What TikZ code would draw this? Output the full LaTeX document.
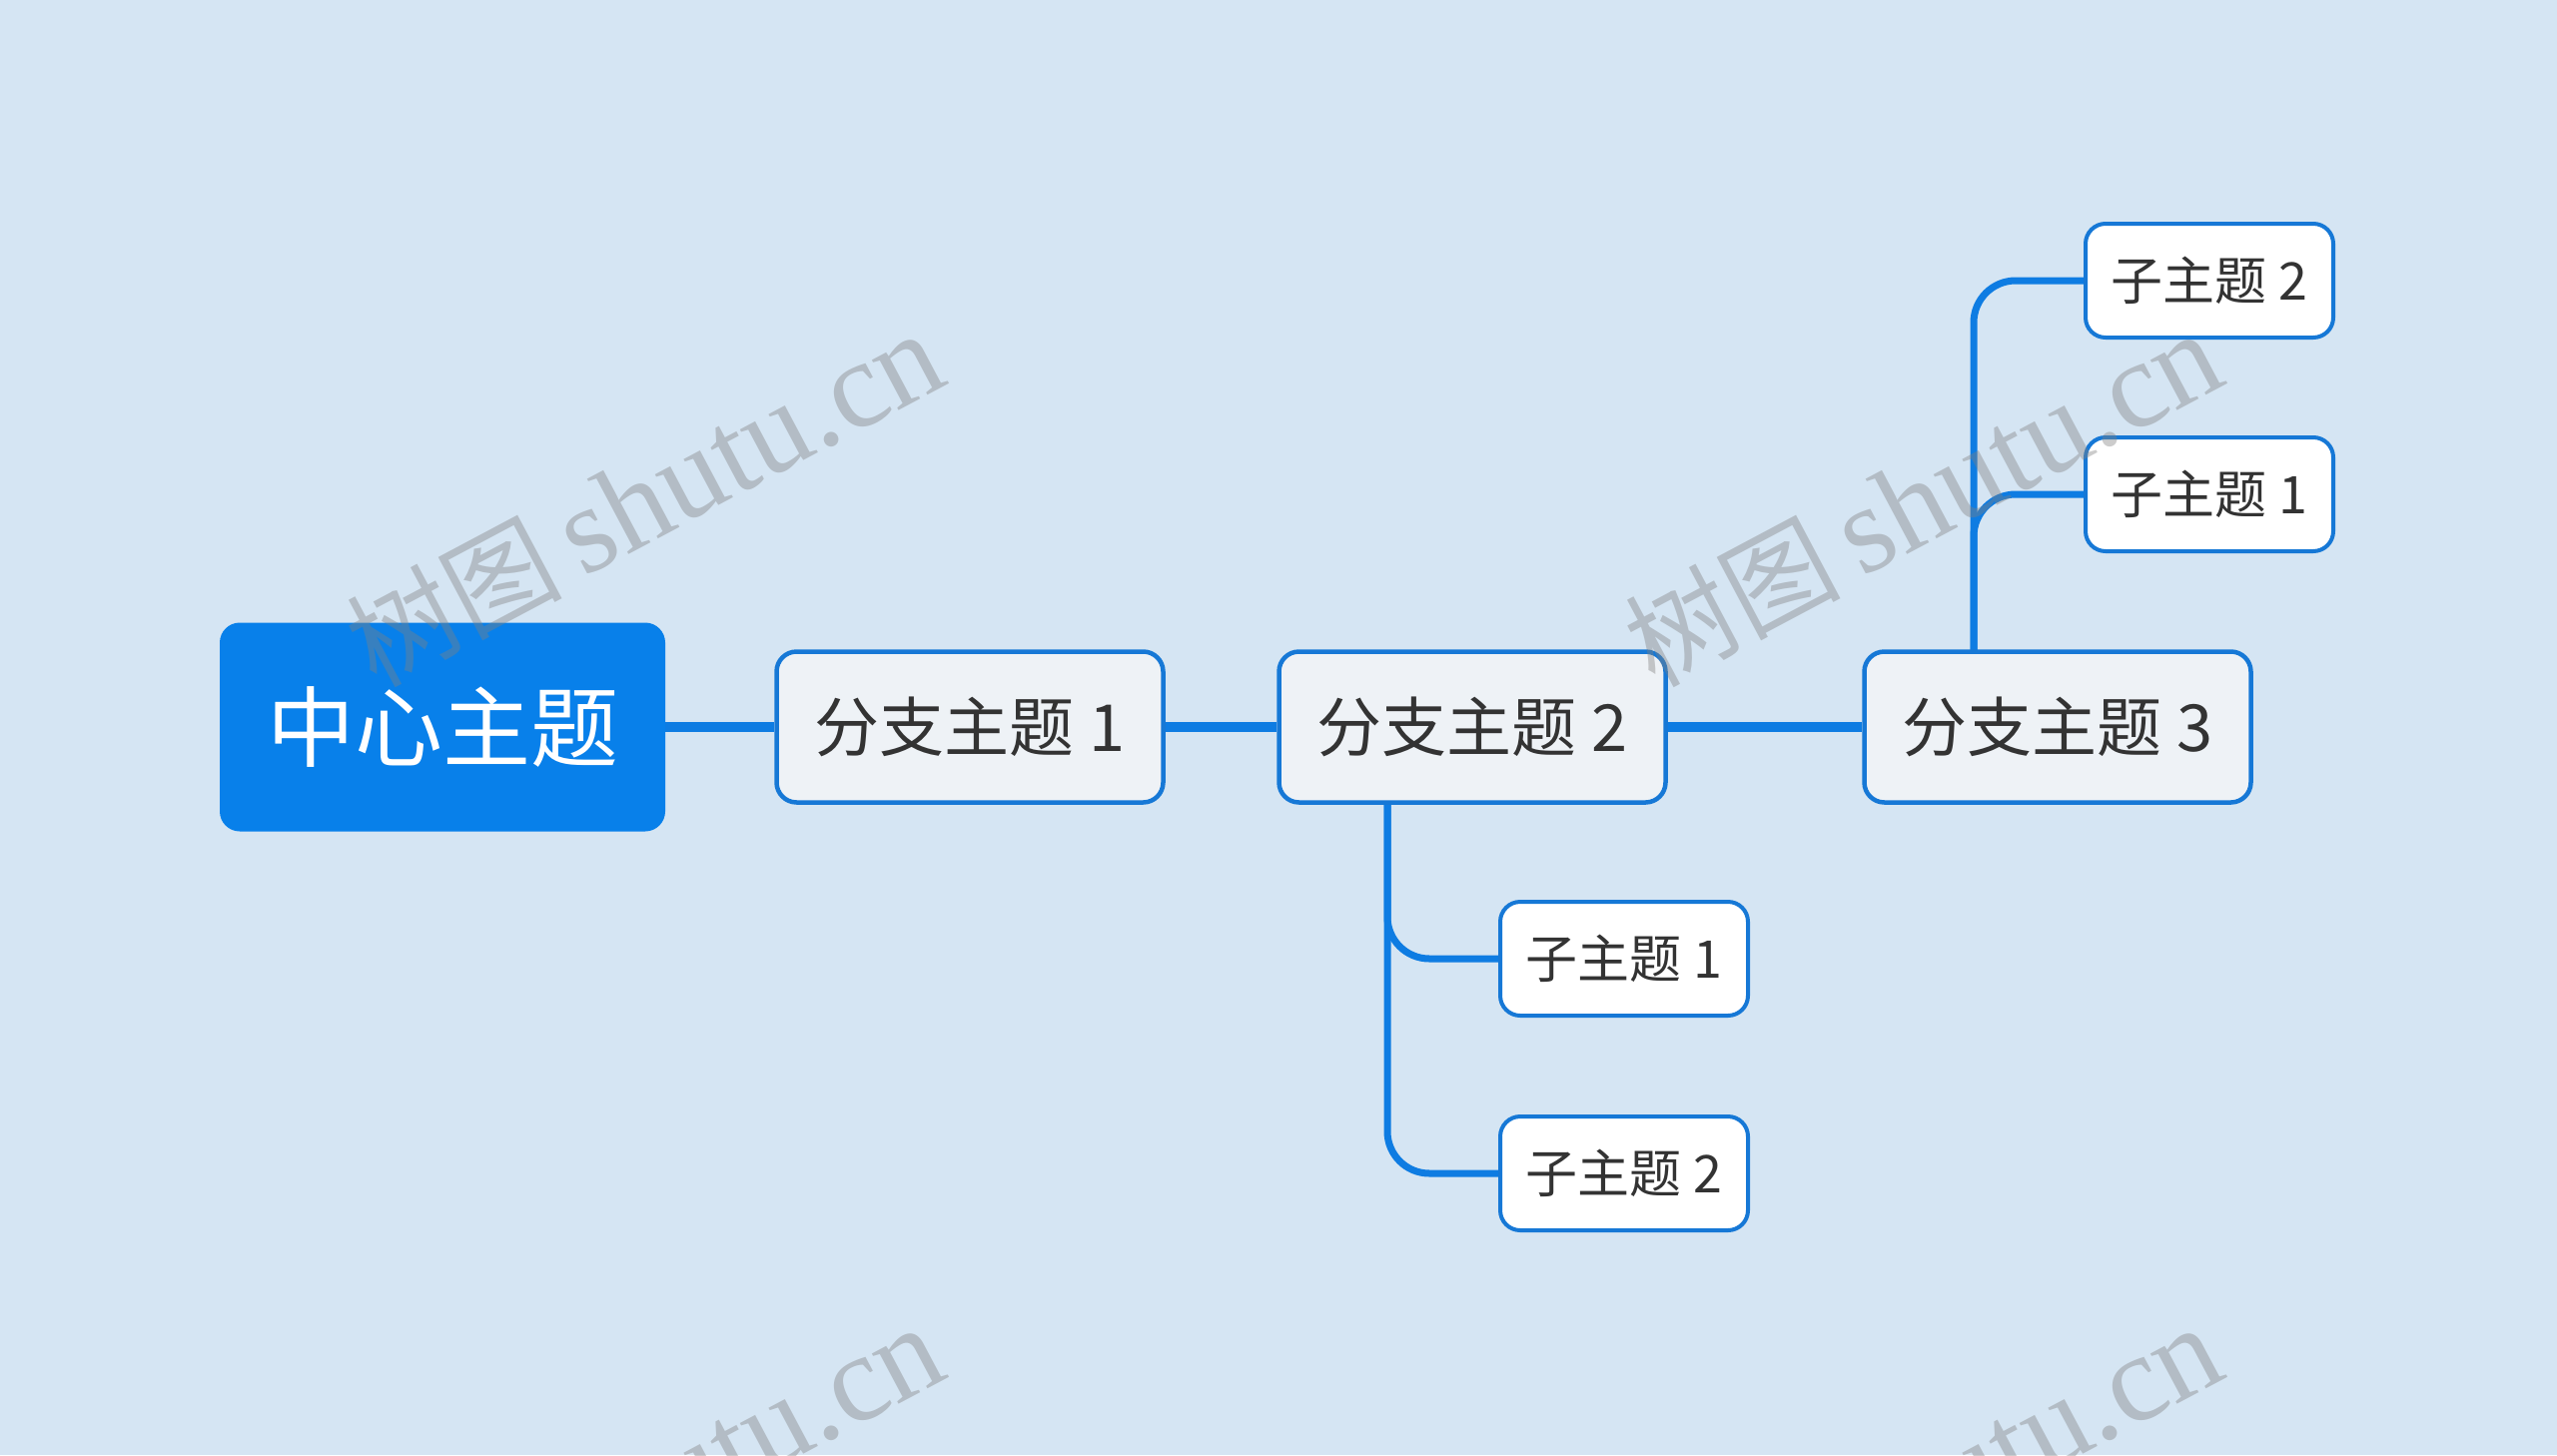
\documentclass[tikz,border=0pt]{standalone}
\usepackage{fontspec}
\newfontfamily\cjk{Noto Sans CJK SC}
\newfontfamily\wmlatin{Liberation Serif}
\pgfdeclarelayer{back}
\pgfdeclarelayer{links}
\pgfsetlayers{back,links,main}
\definecolor{bg}{RGB}{213,229,243}
\definecolor{cblue}{RGB}{8,128,234}
\definecolor{bline}{RGB}{14,124,226}
\definecolor{bborder}{RGB}{22,120,214}
\definecolor{bfill}{RGB}{238,242,246}
\definecolor{txt}{RGB}{51,51,51}
\definecolor{wm}{RGB}{128,128,128}
\newcommand{\wmtext}{{\cjk\fontsize{108}{120}\selectfont 树图}\hspace{20pt}{\wmlatin\fontsize{124}{130}\selectfont shutu.cn}}
\tikzset{
  central/.style={fill=cblue, rounded corners=20pt, minimum width=446pt, minimum height=209pt,
    inner sep=0pt, text=white, font=\cjk\fontsize{88}{100}\selectfont},
  branch/.style={fill=bfill, draw=bborder, line width=4.5pt, rounded corners=20pt,
    minimum width=387pt, minimum height=151pt, inner sep=0pt, text=txt,
    font=\cjk\fontsize{65}{76}\selectfont},
  subtopic/.style={fill=white, draw=bborder, line width=4pt, rounded corners=20pt,
    minimum width=248pt, minimum height=114pt, inner sep=0pt, text=txt,
    font=\cjk\fontsize{52}{62}\selectfont},
  mainline/.style={draw=bline, line width=10pt},
  subline/.style={draw=bline, line width=7pt, rounded corners=42pt},
  watermark/.style={text=wm, opacity=0.4, rotate=28, inner sep=0pt}
}
\begin{document}
\begin{tikzpicture}[x=1pt,y=-1pt]
\useasboundingbox (0,0) rectangle (2560,1457);
\begin{pgfonlayer}{back}
\fill[bg] (0,0) rectangle (2560,1457);
\end{pgfonlayer}
\node[central] (c) at (443,728) {中心主题};
\node[branch] (b1) at (971,728) {分支主题 1};
\node[branch] (b2) at (1474,728) {分支主题 2};
\node[branch] (b3) at (2060,728) {分支主题 3};
\node[subtopic] (s21) at (1626,960) {子主题 1};
\node[subtopic] (s22) at (1626,1175) {子主题 2};
\node[subtopic] (s31) at (2212,281) {子主题 2};
\node[subtopic] (s32) at (2212,495) {子主题 1};
\coordinate (t2) at (1389,790);
\coordinate (t3) at (1976,670);
\begin{pgfonlayer}{links}
\draw[mainline] (c.east) -- (b1.west);
\draw[mainline] (b1.east) -- (b2.west);
\draw[mainline] (b2.east) -- (b3.west);
\draw[subline] (t2) |- (s21.west);
\draw[subline] (t2) |- (s22.west);
\draw[subline] (t3) |- (s31.west);
\draw[subline] (t3) |- (s32.west);
\end{pgfonlayer}
% watermarks
\begin{scope}
\clip (0,0) rectangle (2560,1457);
\node[watermark] (w1) at (645,500) {\wmtext};
\node[watermark] (w2) at (1925,500) {\wmtext};
\node[watermark] (w3) at (645,1495) {\wmtext};
\node[watermark] (w4) at (1925,1495) {\wmtext};
\end{scope}
\end{tikzpicture}
\end{document}
